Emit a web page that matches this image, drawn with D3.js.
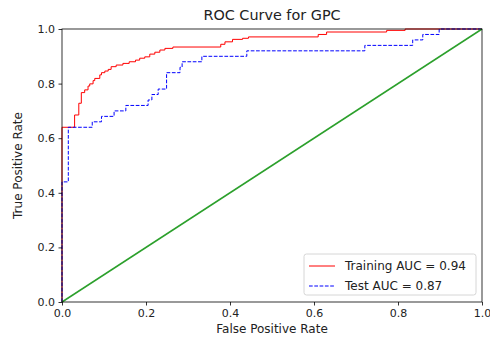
<!DOCTYPE html>
<html>
<head>
<meta charset="utf-8">
<script src="https://cdn.jsdelivr.net/npm/d3@7"></script>
<style>
  body { margin: 0; background: #fff; }
  text { font-family: "DejaVu Sans", sans-serif; fill: #222; }
</style>
</head>
<body>
<div id="chart"></div>
<script>
// ROC corner points (step after: hold tpr until next fpr, then jump)
const trainFpr = [0, 0, 0.030, 0.040, 0.046, 0.054, 0.062, 0.066, 0.074, 0.078, 0.090, 0.094, 0.102, 0.110,
    0.117, 0.129, 0.145, 0.160, 0.175, 0.185, 0.197, 0.209, 0.221, 0.233, 0.245, 0.264, 0.378, 0.388,
    0.406, 0.430, 0.444, 0.610, 0.630, 0.773, 0.817, 1.0];
const trainTpr = [0, 0.64, 0.685, 0.728, 0.767, 0.777, 0.791, 0.799, 0.811, 0.819, 0.832, 0.840, 0.846, 0.852,
    0.862, 0.868, 0.874, 0.880, 0.886, 0.893, 0.898, 0.908, 0.915, 0.923, 0.929, 0.934, 0.944, 0.953,
    0.962, 0.966, 0.971, 0.980, 0.989, 0.995, 1.0, 1.0];

const testFpr = [0, 0, 0.015, 0.072, 0.094, 0.124, 0.152, 0.205, 0.214, 0.229, 0.249, 0.281, 0.286, 0.333,
    0.440, 0.721, 0.835, 0.859, 0.898, 1.0];
const testTpr = [0, 0.44, 0.64, 0.66, 0.68, 0.70, 0.72, 0.74, 0.76, 0.78, 0.84, 0.86, 0.88, 0.90,
    0.92, 0.94, 0.96, 0.98, 1.0, 1.0];

const chanceFpr = [0, 1];
const chanceTpr = [0, 1];

const tickValues = [0, 0.2, 0.4, 0.6, 0.8, 1.0];
const legendLabels = ["Training AUC = 0.94", "Test AUC = 0.87"];

const width = 490, height = 341;
const margin = { top: 29, right: 8, bottom: 39, left: 62 };

const svg = d3.select("#chart").append("svg")
    .attr("width", width)
    .attr("height", height);

const x = d3.scaleLinear().domain([0, 1]).range([margin.left, width - margin.right]);
const y = d3.scaleLinear().domain([0, 1]).range([height - margin.bottom, margin.top]);

const toPoints = (xs, ys) => xs.map((v, i) => [v, ys[i]]);

const stepLine = d3.line()
    .x(d => x(d[0]))
    .y(d => y(d[1]))
    .curve(d3.curveStepAfter);

const straight = d3.line()
    .x(d => x(d[0]))
    .y(d => y(d[1]));

const plot = svg.append("g");

// Training
plot.append("path")
    .attr("d", stepLine(toPoints(trainFpr, trainTpr)))
    .attr("fill", "none")
    .attr("stroke", "#ff0000")
    .attr("stroke-width", 1);

// Test
plot.append("path")
    .attr("d", stepLine(toPoints(testFpr, testTpr)))
    .attr("fill", "none")
    .attr("stroke", "#0000ff")
    .attr("stroke-width", 1)
    .attr("stroke-dasharray", "3.7,1.6");

// Chance diagonal
plot.append("path")
    .attr("d", straight(toPoints(chanceFpr, chanceTpr)))
    .attr("fill", "none")
    .attr("stroke", "#2ca02c")
    .attr("stroke-width", 1.5);

// Axes
const xAxis = svg.append("g")
    .attr("transform", `translate(0,${height - margin.bottom})`)
    .call(d3.axisBottom(x).tickValues(tickValues).tickFormat(d3.format(".1f")).tickSizeOuter(0).tickSize(3.5).tickPadding(3.5));

const yAxis = svg.append("g")
    .attr("transform", `translate(${margin.left},0)`)
    .call(d3.axisLeft(y).tickValues(tickValues).tickFormat(d3.format(".1f")).tickSizeOuter(0).tickSize(3.5).tickPadding(3.5));

[xAxis, yAxis].forEach(ax => {
    ax.select(".domain").remove();
    ax.selectAll("line").attr("stroke", "#000").attr("stroke-width", 0.8);
    ax.selectAll("text").style("font-size", "11px").style("fill", "#222");
});

// Spines
svg.append("rect")
    .attr("x", margin.left)
    .attr("y", margin.top)
    .attr("width", width - margin.left - margin.right)
    .attr("height", height - margin.top - margin.bottom)
    .attr("fill", "none")
    .attr("stroke", "#000")
    .attr("stroke-width", 0.8);

// Title and labels
svg.append("text")
    .attr("x", (margin.left + width - margin.right) / 2)
    .attr("y", 20)
    .attr("text-anchor", "middle")
    .style("font-size", "14.4px")
    .text("ROC Curve for GPC");

svg.append("text")
    .attr("x", (margin.left + width - margin.right) / 2)
    .attr("y", 333)
    .attr("text-anchor", "middle")
    .style("font-size", "12px")
    .text("False Positive Rate");

svg.append("text")
    .attr("transform", `translate(22,${(margin.top + height - margin.bottom) / 2}) rotate(-90)`)
    .attr("text-anchor", "middle")
    .style("font-size", "12px")
    .text("True Positive Rate");

// Legend
const legend = svg.append("g").attr("transform", "translate(304,254)");
legend.append("rect")
    .attr("width", 172)
    .attr("height", 41)
    .attr("rx", 2.5)
    .attr("fill", "#fff")
    .attr("fill-opacity", 0.8)
    .attr("stroke", "#ccc")
    .attr("stroke-width", 0.8);

const legendStyles = [
    { color: "#ff0000", dash: null },
    { color: "#0000ff", dash: "3.7,1.6" }
];

legendLabels.forEach((label, i) => {
    const row = legend.append("g").attr("transform", `translate(0,${12 + i * 20})`);
    row.append("line")
        .attr("x1", 5).attr("x2", 31)
        .attr("stroke", legendStyles[i].color)
        .attr("stroke-width", 1)
        .attr("stroke-dasharray", legendStyles[i].dash);
    row.append("text")
        .attr("x", 41)
        .attr("dy", "0.35em")
        .style("font-size", "12px")
        .text(label);
});
</script>
</body>
</html>
